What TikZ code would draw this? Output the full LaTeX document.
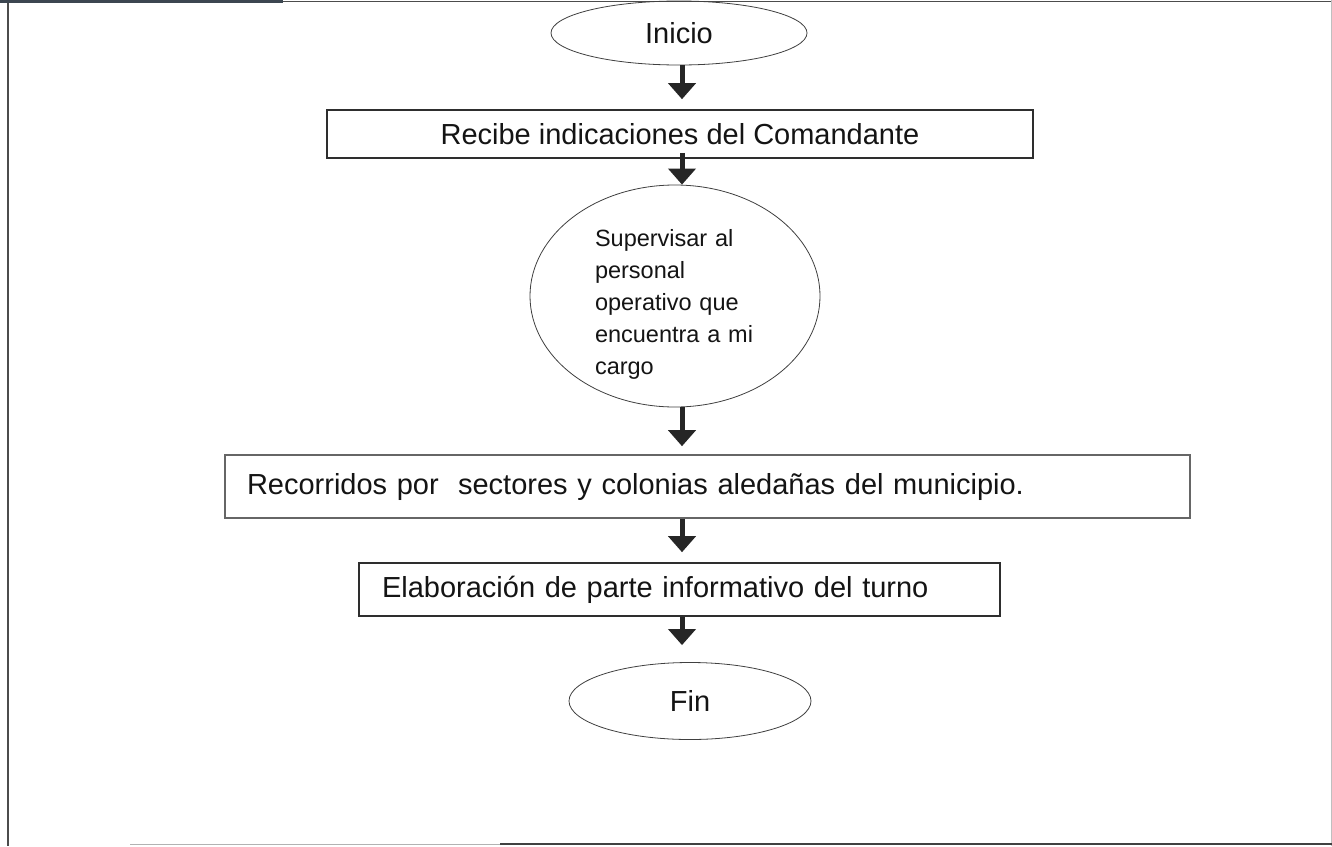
\documentclass[tikz,border=0pt]{standalone}
\usepackage{fontspec}
\setmainfont{Liberation Sans}
\usetikzlibrary{arrows.meta,shapes.geometric}
\begin{document}
\begin{tikzpicture}[x=1pt,y=1pt,
  every node/.style={font=\fontsize{29}{34}\selectfont, text=black!92},
  oval/.style={ellipse, draw=black!75, line width=0.8pt, inner sep=0pt},
  procbox/.style={rectangle, draw=black!82, line width=1.6pt, inner sep=0pt},
  flowarrow/.style={draw=black!85, line width=5pt, -{Triangle[width=27pt,length=16pt]}},
]
\useasboundingbox (0,0) rectangle (1332,-846);
\fill[white] (0,0) rectangle (1332,-846);
% frame
\draw[black!70, line width=1.2pt] (8,0) -- (8,-846);
\draw[black!70, line width=1pt] (0,-1) -- (1332,-1);
\draw[line width=3.5pt, color={rgb,255:red,60;green,70;blue,80}] (0,-1) -- (283,-1);
\draw[black!25, line width=1pt] (1331,0) -- (1331,-846);
\draw[black!30, line width=1pt] (130,-844) -- (1332,-844);
\draw[black!75, line width=2pt] (500,-844) -- (1332,-844);
% nodes
\node[oval, minimum width=256pt, minimum height=64pt] (ini) at (679,-33) {Inicio};
\node[procbox, minimum width=706pt, minimum height=48pt] (b1) at (680,-134) {Recibe indicaciones del Comandante};
\node[oval, minimum width=290pt, minimum height=222pt, inner ysep=-12pt, font=\fontsize{23.5}{32}\selectfont, align=left, text width=160pt] (e2) at (675,-296) {\rule{0pt}{33pt}Supervisar al\\ personal\\ operativo que\\ encuentra a mi\\ cargo};
\node[procbox, draw=black!60, minimum width=965pt, minimum height=63pt, text width=921pt, inner xsep=22pt, align=left] (b3) at (707.5,-486.5) {Recorridos por\ \ sectores y colonias aledañas del municipio.};
\node[procbox, minimum width=641pt, minimum height=53pt, text width=595pt, inner xsep=23pt, align=left] (b4) at (679.5,-589.5) {Elaboración de parte informativo del turno};
\node[oval, minimum width=242pt, minimum height=77pt] (fin) at (690,-701) {Fin};
% connectors
\coordinate (ax) at (682,0);
\draw[flowarrow, shorten >=10pt] (ini.south -| ax) -- (b1.north -| ax);
\draw[flowarrow, shorten <=-6pt] (b1.south -| ax) -- (e2.north -| ax);
\draw[flowarrow, shorten >=8pt] (e2.south -| ax) -- (b3.north -| ax);
\draw[flowarrow, shorten >=10pt] (b3.south -| ax) -- (b4.north -| ax);
\draw[flowarrow, shorten >=17pt] (b4.south -| ax) -- (fin.north -| ax);
\end{tikzpicture}
\end{document}
